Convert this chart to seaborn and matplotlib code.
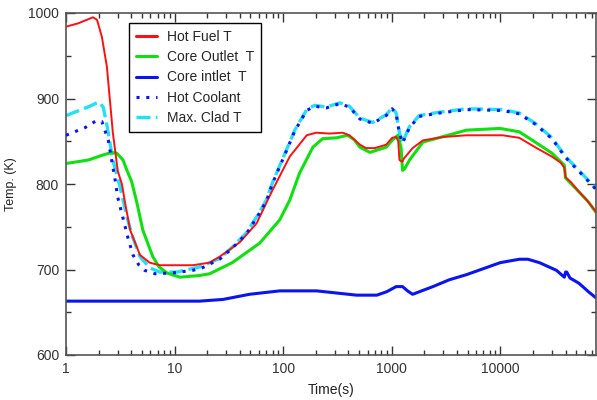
import numpy as np
import pandas as pd
import matplotlib
matplotlib.use("Agg")
import matplotlib.pyplot as plt
from matplotlib.ticker import LogLocator, FuncFormatter, MultipleLocator
import seaborn as sns

# ---------- Data ----------
fuel_t = [1, 1.3, 1.77, 1.93, 2.14, 2.38, 2.7, 3.0, 3.27, 3.5, 3.9, 4.8, 5.9, 7.3, 10, 14.7,
          21, 26, 32, 40, 57, 72, 80, 115, 165, 202, 268, 353, 408, 510, 580, 700, 890,
          1010, 1100, 1150, 1180, 1250, 1300, 1560, 1940, 3000, 4900, 10500, 15000, 21000,
          30000, 36000, 39000, 40000, 45000, 53000, 62000, 76000]
fuel_T = [984, 988, 995, 992, 972, 937, 860, 815, 800, 778, 746, 717, 708, 705, 705, 705,
          708, 715, 723, 732, 754, 781, 793, 832, 857, 860, 859, 860, 857, 846, 842, 842, 846,
          854, 855, 850, 828, 826, 830, 842, 851, 855, 857, 857, 854, 843,
          832, 825, 819, 808, 802, 791, 782, 768]

outlet_t = [1, 1.6, 2.2, 2.65, 2.94, 3.35, 3.64, 4.02, 4.5, 5.1, 6.3, 7.2, 8.5, 11.2, 17, 21,
            34, 61, 93, 115, 142, 188, 231, 310, 392, 450, 510, 630, 890, 1010, 1140, 1220,
            1260, 1320, 1460, 1940, 4900, 10000, 15000, 21000, 30000, 39000, 40000, 53000,
            65000, 76000]
outlet_T = [824, 828, 834, 837, 836, 828, 816, 803, 778, 746, 715, 703, 696, 691, 693, 695,
            708, 731, 758, 781, 813, 843, 853, 854, 857, 852, 843, 837, 843, 851, 857, 843,
            816, 818, 828, 849, 863, 865, 861, 849, 836, 822, 807, 791,
            779, 767]

inlet_t = [1, 17, 28, 49, 93, 203, 475, 730, 900, 1100, 1260, 1400, 1560, 2400, 3400, 4900,
           10000, 15000, 18000, 23000, 33000, 39000, 40000, 41000, 44000, 53000, 60000,
           65000, 76000]
inlet_T = [663, 663, 665, 671, 675, 675, 670, 670, 674, 680, 680, 675, 671, 680, 688, 694,
           708, 712, 712, 708, 699, 691, 697, 697, 690, 684, 678, 674, 667]

coolant_t = [1, 1.5, 1.9, 2.14, 2.45, 2.83, 3.0, 3.35, 3.7, 4.14, 4.7, 5.3, 6.6, 9.6, 14.7, 18,
             26, 34, 46, 58, 70, 80, 110, 128, 165, 195, 250, 333, 408, 510, 670, 890, 1010,
             1100, 1180, 1260, 1460, 1790, 2750, 4900, 10500, 15000, 21000, 30000, 40000,
             53000, 76000]
coolant_T = [857, 866, 874, 873, 851, 805, 784, 760, 738, 717, 705, 699, 695, 696, 699, 702,
             712, 725, 742, 762, 780, 801, 842, 862, 886, 891, 889, 894, 890, 876, 871, 880, 888,
             882, 859, 848, 866, 879, 883, 887, 886, 882, 870, 853, 831,
             815, 794]

clad_t = [1, 1.66, 2.0, 2.2, 2.38, 2.7, 3.14, 3.6, 4.05, 4.8, 5.9, 7.3, 10.5, 17, 26, 34, 46,
          58, 70, 80, 110, 128, 165, 195, 250, 333, 408, 510, 670, 890, 1010, 1100, 1180,
          1260, 1460, 1790, 2750, 4900, 10500, 15000, 21000, 30000, 40000, 53000, 76000]
clad_T = [880, 891, 896, 890, 869, 828, 797, 764, 740, 715, 702, 697, 697, 703, 713, 726, 743,
          763, 781, 802, 843, 863, 887, 892, 890, 895, 891, 877, 872, 881, 889, 883, 860,
          849, 867, 880, 884, 888, 887, 883, 871, 854, 832, 816, 795]

# ---------- Style ----------
sns.set_theme(style="ticks")
plt.rcParams["font.family"] = ["Liberation Sans", "DejaVu Sans"]

fig = plt.figure(figsize=(5.97, 4.0), dpi=100)
ax = fig.add_axes([0.1106, 0.1125, 0.8874, 0.855])

sns.lineplot(x=fuel_t, y=fuel_T, ax=ax, color="#ff1010", lw=1.4, label="Hot Fuel T", zorder=3)
sns.lineplot(x=outlet_t, y=outlet_T, ax=ax, color="#10e010", lw=2.2, label="Core Outlet  T", zorder=2)
sns.lineplot(x=inlet_t, y=inlet_T, ax=ax, color="#0a14f0", lw=2.2, label="Core intlet  T", zorder=2)
sns.lineplot(x=coolant_t, y=coolant_T, ax=ax, color="#0a14f0", lw=2.2, ls=(0, (1, 2.2)),
             label="Hot Coolant", zorder=4)
sns.lineplot(x=clad_t, y=clad_T, ax=ax, color="#22e0f5", lw=2.4, ls=(0, (4.2, 1.6)),
             label="Max. Clad T", zorder=1)

ax.set_xscale("log")
ax.set_xlim(1, 76000)
ax.set_ylim(600, 1000)
ax.xaxis.set_major_locator(LogLocator(base=10))
ax.xaxis.set_minor_locator(LogLocator(base=10, subs=np.arange(2, 10)))
ax.xaxis.set_major_formatter(FuncFormatter(lambda v, p: f"{v:g}" if v < 1e5 else ""))
ax.yaxis.set_major_locator(MultipleLocator(100))
ax.yaxis.set_minor_locator(MultipleLocator(50))

ax.tick_params(which="both", direction="in", top=True, right=True, colors="#333333",
               labelsize=10, width=1.0, pad=5)
ax.tick_params(which="major", length=6.5)
ax.tick_params(which="minor", length=3.5)
for s in ax.spines.values():
    s.set_color("#555555")
    s.set_linewidth(1.2)

ax.set_xlabel("Time(s)", fontsize=10, color="#222222", labelpad=5)
ax.set_ylabel("Temp. (K)", fontsize=9, color="#222222", labelpad=8)

leg = ax.legend(loc="upper left", bbox_to_anchor=(0.119, 0.971), borderaxespad=0,
                fontsize=10, frameon=True, fancybox=False, framealpha=1,
                edgecolor="black", handlelength=1.5, handletextpad=0.7, labelspacing=0.45,
                borderpad=0.5)
leg.get_frame().set_linewidth(1.0)
leg.get_lines()[0].set_linewidth(2.2)

fig.savefig("out.png", dpi=100)
